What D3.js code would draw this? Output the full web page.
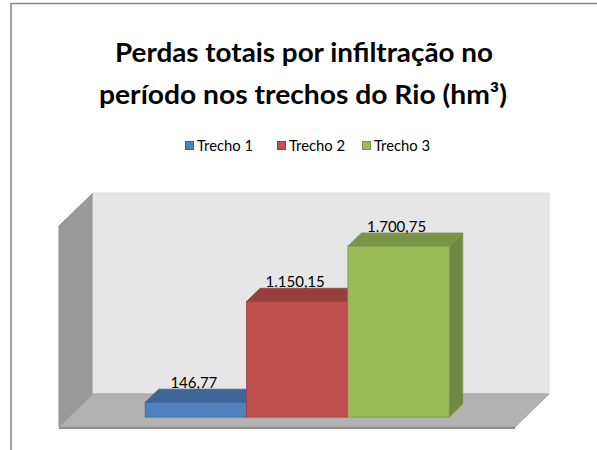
<!DOCTYPE html>
<html>
<head>
<meta charset="utf-8">
<script src="https://cdn.jsdelivr.net/npm/d3@7"></script>
<style>
  body { margin: 0; background: #fff; }
  svg { display: block; }
  text { font-family: Lato, "Open Sans", sans-serif; fill: #000; }
</style>
</head>
<body>
<div class="container"></div>
<script>
var WIDTH = 597, HEIGHT = 450;

// data
var titleLines = ['Perdas totais por infiltração no', 'período nos trechos do Rio (hm³)'];
var series = ['Trecho 1', 'Trecho 2', 'Trecho 3'];
var values = [146.77, 1150.15, 1700.75];
var labels = ['146,77', '1.150,15', '1.700,75'];
var colors = ['#4F81BD', '#C0504D', '#9BBB59'];
var yMax = 2000;

// layout of the 3d box (front plane + depth vector)
var FRONT_LEFT = 59, FRONT_RIGHT = 515, FLOOR_Y = 427, TOP_Y = 226;
var DEPTH_X = 34, DEPTH_Y = -33;
var BAR_D0 = 0.3, BAR_D1 = 0.7;

var svg = d3.select('.container').append('svg')
    .attr('width', WIDTH)
    .attr('height', HEIGHT);

// chart border
svg.append('rect')
    .attr('x', 11).attr('y', 3.5)
    .attr('width', 700).attr('height', 600)
    .attr('fill', 'none')
    .attr('stroke', '#868686')
    .attr('stroke-width', 1.5);

// title
svg.selectAll('.title')
    .data(titleLines)
    .enter()
    .append('text')
    .attr('class', 'title')
    .attr('x', function (d, i) { return i === 0 ? 115 : 99; })
    .attr('y', function (d, i) { return 62 + i * 42; })
    .attr('textLength', function (d, i) { return i === 0 ? 378 : 408; })
    .attr('lengthAdjust', 'spacingAndGlyphs')
    .style('font-size', '26px')
    .style('font-weight', 'bold')
    .text(function (d) { return d; });

// legend
var legendX = [185, 277, 362];
var legend = svg.selectAll('.legend-item')
    .data(series)
    .enter()
    .append('g')
    .attr('class', 'legend-item')
    .attr('transform', function (d, i) { return 'translate(' + legendX[i] + ',141)'; });

legend.append('rect')
    .attr('x', 0.5).attr('y', 0.5)
    .attr('width', 8).attr('height', 8)
    .attr('fill', function (d, i) { return colors[i]; })
    .attr('stroke', function (d, i) { return d3.color(colors[i]).darker(0.7); })
    .attr('stroke-width', 1);

legend.append('text')
    .attr('x', 12)
    .attr('y', 10)
    .attr('textLength', 56)
    .attr('lengthAdjust', 'spacingAndGlyphs')
    .style('font-size', '15px')
    .text(function (d) { return d; });

// scales
var y = d3.scaleLinear().domain([0, yMax]).range([FLOOR_Y, TOP_Y]);
var xOuter = d3.scaleBand().domain(['']).range([FRONT_LEFT, FRONT_RIGHT]).paddingOuter(0.25).paddingInner(0);
var x = d3.scaleBand().domain(series).range([xOuter(''), xOuter('') + xOuter.bandwidth()]);

function pt(px, py, depth) {
    return [px + DEPTH_X * depth, py + DEPTH_Y * depth];
}
function poly(points) {
    return points.map(function (p) { return p[0] + ',' + p[1]; }).join(' ');
}

var walls = svg.append('g').attr('class', 'walls');

// side wall
walls.append('polygon')
    .attr('points', poly([
        pt(FRONT_LEFT, y(0), 0), pt(FRONT_LEFT, y(yMax), 0),
        pt(FRONT_LEFT, y(yMax), 1), pt(FRONT_LEFT, y(0), 1)
    ]))
    .attr('fill', '#9A9A9A')
    .attr('stroke', '#8C8C8C');

// back wall
walls.append('polygon')
    .attr('points', poly([
        pt(FRONT_LEFT, y(0), 1), pt(FRONT_LEFT, y(yMax), 1),
        pt(FRONT_RIGHT, y(yMax), 1), pt(FRONT_RIGHT, y(0), 1)
    ]))
    .attr('fill', '#E6E6E6')
    .attr('stroke', '#DCDCDC');

// floor
walls.append('polygon')
    .attr('points', poly([
        pt(FRONT_LEFT, y(0), 0), pt(FRONT_LEFT, y(0), 1),
        pt(FRONT_RIGHT, y(0), 1), pt(FRONT_RIGHT, y(0), 0)
    ]))
    .attr('fill', '#B2B2B2')
    .attr('stroke', '#A0A0A0');

walls.append('rect')
    .attr('x', FRONT_LEFT)
    .attr('y', y(0))
    .attr('width', FRONT_RIGHT - FRONT_LEFT)
    .attr('height', 2)
    .attr('fill', '#8E8E8E');

// bars
var bars = svg.selectAll('.bar')
    .data(values)
    .enter()
    .append('g')
    .attr('class', 'bar');

bars.each(function (v, i) {
    var g = d3.select(this);
    var x0 = x(series[i]), x1 = x0 + x.bandwidth();
    var yb = y(0), yt = y(v);
    var c = d3.color(colors[i]);
    var edge = c.darker(0.6).formatHex();

    // right side
    g.append('polygon')
        .attr('points', poly([pt(x1, yb, BAR_D0), pt(x1, yt, BAR_D0), pt(x1, yt, BAR_D1), pt(x1, yb, BAR_D1)]))
        .attr('fill', c.darker(0.9))
        .attr('stroke', edge).attr('stroke-width', 0.8);
    // top
    g.append('polygon')
        .attr('points', poly([pt(x0, yt, BAR_D0), pt(x0, yt, BAR_D1), pt(x1, yt, BAR_D1), pt(x1, yt, BAR_D0)]))
        .attr('fill', c.darker(0.65))
        .attr('stroke', edge).attr('stroke-width', 0.8);
    // front
    var f0 = pt(x0, yt, BAR_D0), f1 = pt(x1, yb, BAR_D0);
    g.append('rect')
        .attr('x', f0[0]).attr('y', f0[1])
        .attr('width', f1[0] - f0[0]).attr('height', f1[1] - f0[1])
        .attr('fill', c)
        .attr('stroke', edge).attr('stroke-width', 0.8);
});

// data labels
svg.selectAll('.label')
    .data(values)
    .enter()
    .append('text')
    .attr('class', 'label')
    .attr('x', function (d, i) { return pt(x(series[i]) + x.bandwidth() / 2, 0, BAR_D0)[0] - 2; })
    .attr('y', function (d) { return pt(0, y(d), BAR_D1)[1] - 1; })
    .attr('text-anchor', 'middle')
    .style('font-size', '15px')
    .text(function (d, i) { return labels[i]; });
</script>
</body>
</html>
